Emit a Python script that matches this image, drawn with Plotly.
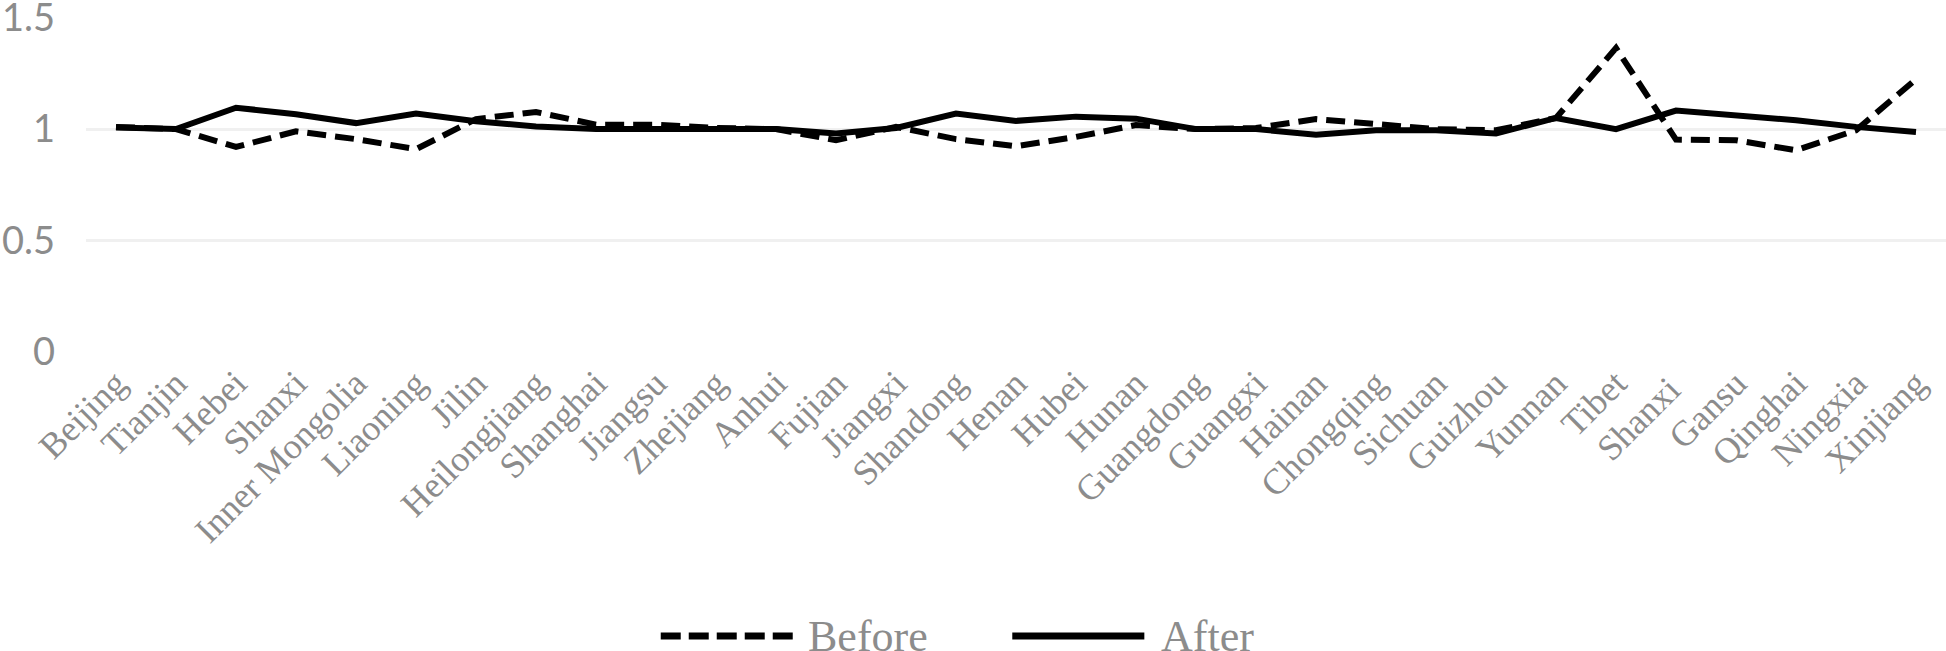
import plotly.graph_objects as go

# provinces on the x axis
provinces = [
    "Beijing", "Tianjin", "Hebei", "Shanxi", "Inner Mongolia", "Liaoning", "Jilin",
    "Heilongjiang", "Shanghai", "Jiangsu", "Zhejiang", "Anhui", "Fujian", "Jiangxi",
    "Shandong", "Henan", "Hubei", "Hunan", "Guangdong", "Guangxi", "Hainan",
    "Chongqing", "Sichuan", "Guizhou", "Yunnan", "Tibet", "Shanxi ", "Gansu",
    "Qinghai", "Ningxia", "Xinjiang",
]

before = [
    1.01, 1.00, 0.92, 0.99, 0.955, 0.91, 1.045,
    1.077, 1.02, 1.02, 1.005, 1.00, 0.95, 1.01,
    0.955, 0.923, 0.965, 1.018, 1.00, 1.005, 1.045,
    1.024, 1.00, 0.995, 1.05, 1.364, 0.953, 0.95,
    0.905, 0.995, 1.224,
]

after = [
    1.007, 1.00, 1.096, 1.067, 1.027, 1.07, 1.035,
    1.012, 1.00, 1.00, 1.00, 1.00, 0.98, 1.005,
    1.07, 1.037, 1.056, 1.047, 1.00, 1.00, 0.975,
    0.995, 0.995, 0.98, 1.05, 1.00, 1.083, 1.06,
    1.04, 1.01, 0.987,
]

y_ticks = [0, 0.5, 1, 1.5]
y_labels = ["0", "0.5", "1", "1.5"]

grey = '#8c8c8c'
grid_c = '#f0f0f0'

fig = go.Figure()

fig.add_trace(go.Scatter(
    x=provinces, y=before, mode='lines', name='Before',
    line=dict(color='black', width=6, dash='19px,9px'),
    showlegend=False,
))
fig.add_trace(go.Scatter(
    x=provinces, y=after, mode='lines', name='After',
    line=dict(color='black', width=6),
    showlegend=False,
))

# legend drawn by hand so the key lines are as long as in the original
legend_y = -0.848
fig.add_shape(type='line', xref='paper', yref='paper',
              x0=0.309, x1=0.380, y0=legend_y, y1=legend_y,
              line=dict(color='black', width=7, dash='20px,8px'))
fig.add_annotation(x=0.387, y=legend_y, xref='paper', yref='paper',
                   text='Before', showarrow=False, xanchor='left', yanchor='middle',
                   font=dict(family='Liberation Serif', size=44, color=grey))
fig.add_shape(type='line', xref='paper', yref='paper',
              x0=0.498, x1=0.569, y0=legend_y, y1=legend_y,
              line=dict(color='black', width=7))
fig.add_annotation(x=0.577, y=legend_y, xref='paper', yref='paper',
                   text='After', showarrow=False, xanchor='left', yanchor='middle',
                   font=dict(family='Liberation Serif', size=44, color=grey))

fig.update_layout(
    width=1946, height=651,
    paper_bgcolor='white', plot_bgcolor='white',
    margin=dict(l=86, r=0, t=17, b=299),
    xaxis=dict(
        type='category', range=[-0.5, 30.5],
        showgrid=False, showline=False, zeroline=False,
        tickangle=-45, ticks='', ticklabelstandoff=2, automargin=False,
        tickfont=dict(family='Liberation Serif', size=36, color=grey),
    ),
    yaxis=dict(
        range=[0, 1.503], tickvals=y_ticks, ticktext=y_labels,
        showgrid=True, gridcolor=grid_c, gridwidth=3,
        zeroline=False, showline=False, ticks='', ticklabelstandoff=30,
        ticklabeloverflow='allow', automargin=False,
        tickfont=dict(family='Lato', size=38, color=grey),
    ),
)

# drop the default 8px page margin so the figure fills the window
fig.write_html("out.html", config={'displayModeBar': False},
               post_script="document.body.style.margin='0';")
